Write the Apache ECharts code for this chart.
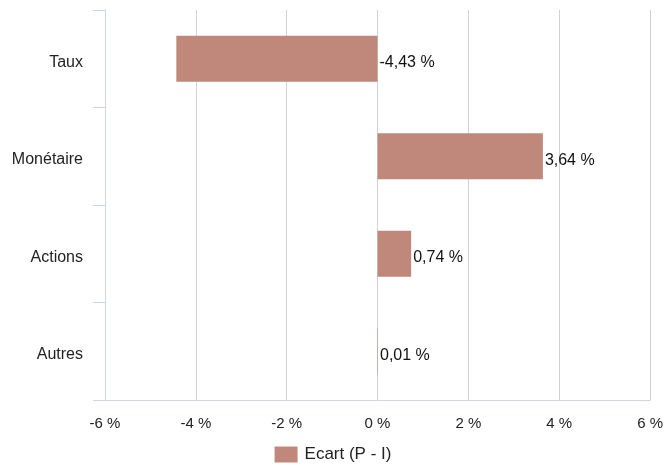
<!DOCTYPE html>
<html>
<head>
<meta charset="utf-8">
<script src="https://cdn.jsdelivr.net/npm/echarts@6/dist/echarts.min.js"></script>
<style>
  html, body { margin: 0; padding: 0; background: #fff; }
  #chart { width: 666px; height: 465px; }
</style>
</head>
<body>
<div id="chart"></div>
<script>
// Allocation categories and the portfolio-vs-index gap (in %)
var categories = ['Taux', 'Monétaire', 'Actions', 'Autres'];
var ecart = [-4.43, 3.64, 0.74, 0.01];
var seriesName = 'Ecart (P - I)';
var xMin = -6, xMax = 6, xStep = 2;

function pct(v) {
  return String(v).replace('.', ',') + ' %';
}
function pct2(v) {
  return v.toFixed(2).replace('.', ',') + ' %';
}

var chart = echarts.init(document.getElementById('chart'), null, { renderer: 'canvas' });

var font = 'Liberation Sans, Arial, Helvetica, sans-serif';

chart.setOption({
  animation: false,
  textStyle: { fontFamily: font },
  grid: { left: 105, right: 15, top: 10, bottom: 65, containLabel: false },
  legend: {
    bottom: -3,
    left: 'center',
    icon: 'rect',
    itemWidth: 23,
    itemHeight: 16,
    itemGap: 10,
    textStyle: { fontFamily: font, fontSize: 17, color: '#222', padding: [0, 0, 0, 2] },
    data: [seriesName]
  },
  xAxis: {
    type: 'value',
    min: xMin,
    max: xMax,
    interval: xStep,
    axisLine: { show: true, lineStyle: { color: '#ccd6eb' } },
    axisTick: { show: false },
    splitLine: { show: true, lineStyle: { color: '#d2d2d2', width: 1 } },
    axisLabel: {
      margin: 16,
      fontSize: 15,
      color: '#222',
      fontFamily: font,
      formatter: function (v) { return pct(v); }
    }
  },
  yAxis: {
    type: 'category',
    inverse: true,
    data: categories,
    axisLine: { show: true, onZero: false, lineStyle: { color: '#ccd6eb' } },
    axisTick: { show: true, length: 12, lineStyle: { color: '#ccd6eb' } },
    splitLine: { show: false },
    axisLabel: {
      margin: 22,
      color: '#222',
      fontFamily: font,
      formatter: function (v) { return '{c|' + v + '}'; },
      rich: {
        c: { fontSize: 16, color: '#222', fontFamily: font, padding: [7, 0, 0, 0] }
      }
    }
  },
  series: [{
    name: seriesName,
    type: 'bar',
    data: ecart,
    barWidth: '47%',
    itemStyle: { color: '#c0887a', borderWidth: 0 },
    label: {
      show: true,
      position: 'right',
      distance: 2,
      offset: [0, 4],
      fontSize: 16,
      color: '#111',
      fontFamily: font,
      formatter: function (p) { return pct2(p.value); }
    }
  }]
});
</script>
</body>
</html>
